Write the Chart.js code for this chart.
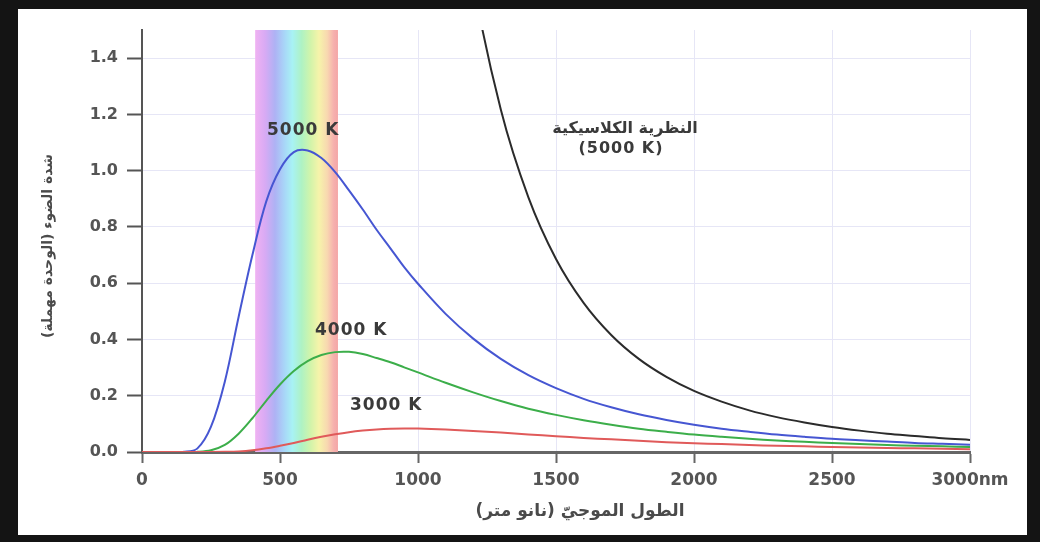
<!DOCTYPE html>
<html>
<head>
<meta charset="utf-8">
<script src="https://cdn.jsdelivr.net/npm/chart.js@4"></script>
<style>
    html, body { margin: 0; padding: 0; }
    body { width: 1040px; height: 542px; background: #141414; position: relative; overflow: hidden; }
    #sheet { position: absolute; left: 18px; top: 9px; width: 1009px; height: 526px; background: #ffffff; }
    #chart { position: absolute; left: 0; top: 0; }
</style>
</head>
<body>
<div id="sheet"></div>
<canvas id="chart" width="1040" height="542"></canvas>
<script>
// wavelengths (nm) shared by the three Planck curves
const wavelengthNm = [0, 100, 150, 200, 250, 300, 350, 400, 450, 500, 550, 600, 650, 700, 750, 800, 850, 900, 950,
    1000, 1100, 1200, 1300, 1400, 1500, 1600, 1700, 1800, 1900, 2000,
    2100, 2200, 2300, 2400, 2500, 2600, 2700, 2800, 2900, 3000];

const curve5000K = [0, 0, 0.0005, 0.012, 0.09, 0.25, 0.48, 0.70, 0.89, 1.005, 1.066, 1.072, 1.045, 0.995, 0.93, 0.862, 0.790, 0.724, 0.657,
    0.598, 0.491, 0.403, 0.331, 0.273, 0.227, 0.189, 0.159, 0.134, 0.114, 0.097,
    0.083, 0.072, 0.062, 0.054, 0.047, 0.042, 0.037, 0.032, 0.029, 0.026];

const curve4000K = [0, 0, 0, 0.0005, 0.006, 0.025, 0.065, 0.12, 0.182, 0.24, 0.288, 0.323, 0.345, 0.355, 0.356, 0.348, 0.334, 0.319, 0.301,
    0.283, 0.246, 0.212, 0.181, 0.154, 0.132, 0.113, 0.097, 0.083, 0.072, 0.062,
    0.054, 0.047, 0.041, 0.036, 0.032, 0.028, 0.025, 0.022, 0.020, 0.018];

const curve3000K = [0, 0, 0, 0, 0, 0.0005, 0.002, 0.006, 0.013, 0.022, 0.032, 0.0435, 0.054, 0.063, 0.0705, 0.076, 0.080, 0.0825, 0.0835,
    0.0833, 0.080, 0.075, 0.069, 0.0625, 0.056, 0.050, 0.045, 0.040, 0.035, 0.031,
    0.028, 0.025, 0.022, 0.020, 0.018, 0.016, 0.014, 0.013, 0.0115, 0.010];

// classical (Rayleigh-Jeans) curve, 5000 K
const classicalNm = [1100, 1200, 1300, 1400, 1500, 1600, 1700, 1800, 1900, 2000,
    2100, 2200, 2300, 2400, 2500, 2600, 2700, 2800, 2900, 3000];
const classical5000K = [2.373, 1.676, 1.217, 0.905, 0.686, 0.530, 0.416, 0.331, 0.267, 0.217,
    0.179, 0.148, 0.124, 0.105, 0.089, 0.076, 0.065, 0.057, 0.049, 0.043];

const xTickValues = [0, 500, 1000, 1500, 2000, 2500, 3000];
const yTickValues = [0, 0.2, 0.4, 0.6, 0.8, 1.0, 1.2, 1.4];
const visibleBandNm = [410, 710];

const curveLabels = ["3000 K", "4000 K", "5000 K"];
const classicalLabel = ["النظرية الكلاسيكية", "(5000 K)"];
const xTitle = "الطول الموجيّ (نانو متر)";
const yTitle = "شدة الضوء (الوحدة مهملة)";

function points(xs, ys) {
    return xs.map((x, i) => ({ x: x, y: ys[i] }));
}

function lineSet(label, xs, ys, color) {
    return {
        label: label,
        data: points(xs, ys),
        borderColor: color,
        borderWidth: 2,
        pointRadius: 0,
        fill: false,
        tension: 0.35
    };
}

const spectrumBand = {
    id: "spectrumBand",
    beforeDatasetsDraw(chart) {
        const { ctx, chartArea, scales } = chart;
        const x0 = scales.x.getPixelForValue(visibleBandNm[0]);
        const x1 = scales.x.getPixelForValue(visibleBandNm[1]);
        const g = ctx.createLinearGradient(x0, 0, x1, 0);
        g.addColorStop(0.00, "#f0b2f2");
        g.addColorStop(0.12, "#d8aaf4");
        g.addColorStop(0.24, "#aeb2f4");
        g.addColorStop(0.36, "#a8d8f8");
        g.addColorStop(0.45, "#a8f2f4");
        g.addColorStop(0.56, "#aef2c4");
        g.addColorStop(0.67, "#d2f4aa");
        g.addColorStop(0.77, "#f6f4aa");
        g.addColorStop(0.87, "#f8d8b0");
        g.addColorStop(0.95, "#f6b0ae");
        g.addColorStop(1.00, "#f4a6a6");
        ctx.save();
        ctx.fillStyle = g;
        ctx.fillRect(x0, chartArea.top, x1 - x0, chartArea.bottom - chartArea.top);
        ctx.restore();
    }
};

const textLabels = {
    id: "textLabels",
    afterDatasetsDraw(chart) {
        const ctx = chart.ctx;
        ctx.save();
        ctx.fillStyle = "#3a3a3a";
        ctx.textAlign = "left";
        ctx.textBaseline = "middle";
        ctx.letterSpacing = "1px";
        ctx.font = "bold 17px 'DejaVu Sans'";
        ctx.fillText(curveLabels[2], 267, 131);
        ctx.fillText(curveLabels[1], 315, 331);
        ctx.fillText(curveLabels[0], 350, 406);

        ctx.letterSpacing = "0px";
        ctx.textAlign = "center";
        ctx.direction = "rtl";
        ctx.font = "bold 16px 'DejaVu Sans'";
        ctx.fillText(classicalLabel[0], 625, 129);
        ctx.direction = "ltr";
        ctx.letterSpacing = "1px";
        ctx.font = "bold 16px 'DejaVu Sans'";
        ctx.fillText(classicalLabel[1], 621, 149);

        ctx.letterSpacing = "0px";
        ctx.fillStyle = "#4a4a4a";
        ctx.direction = "rtl";
        ctx.font = "bold 17px 'DejaVu Sans'";
        ctx.fillText(xTitle, 580, 512);

        ctx.font = "bold 14px 'DejaVu Sans'";
        ctx.translate(48, 246);
        ctx.rotate(-Math.PI / 2);
        ctx.fillText(yTitle, 0, 0);
        ctx.restore();
    }
};

new Chart(document.getElementById("chart"), {
    type: "line",
    data: {
        datasets: [
            lineSet("3000 K", wavelengthNm, curve3000K, "#e05a5a"),
            lineSet("4000 K", wavelengthNm, curve4000K, "#3cae4a"),
            lineSet("5000 K", wavelengthNm, curve5000K, "#4656d2"),
            lineSet("classical", classicalNm, classical5000K, "#2b2b2b")
        ]
    },
    options: {
        responsive: false,
        animation: false,
        layout: { padding: { left: 0, top: 30, right: 70, bottom: 0 } },
        plugins: { legend: { display: false }, tooltip: { enabled: false } },
        scales: {
            x: {
                type: "linear",
                min: 0,
                max: 3000,
                afterFit: s => { s.height = 90; },
                afterBuildTicks: s => { s.ticks = xTickValues.map(v => ({ value: v })); },
                ticks: {
                    padding: 7,
                    color: "#555",
                    font: { family: "DejaVu Sans", size: 17, weight: "bold" },
                    maxRotation: 0,
                    callback: v => v === 3000 ? "3000nm" : String(v)
                },
                grid: { color: "#e6e6f6", lineWidth: 1, tickColor: "#666", tickLength: 11, tickWidth: 2 },
                border: { color: "#666", width: 3 }
            },
            y: {
                type: "linear",
                min: 0,
                max: 1.5,
                afterFit: s => { s.width = 142; },
                afterBuildTicks: s => { s.ticks = yTickValues.map(v => ({ value: v })); },
                ticks: {
                    padding: 9,
                    color: "#555",
                    font: { family: "DejaVu Sans", size: 16, weight: "bold" },
                    callback: v => v.toFixed(1)
                },
                grid: { color: "#e6e6f6", lineWidth: 1, tickColor: "#555", tickLength: 15, tickWidth: 2 },
                border: { color: "#555", width: 2 }
            }
        }
    },
    plugins: [spectrumBand, textLabels]
});
</script>
</body>
</html>
